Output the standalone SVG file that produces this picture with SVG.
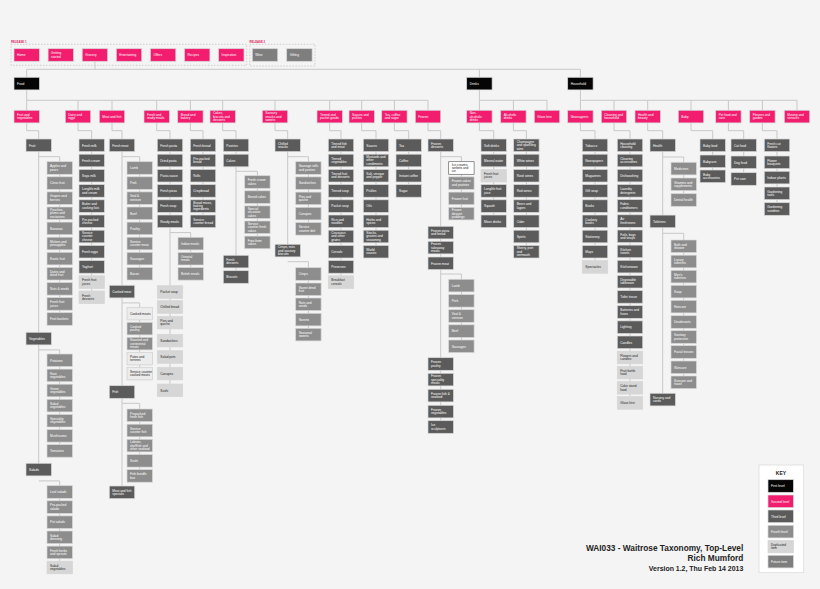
<svg xmlns="http://www.w3.org/2000/svg" width="820" height="589" viewBox="0 0 820 589">
<style>
.bg{fill:#f4f4f4}
.n rect{stroke:#d6d6d6;stroke-width:0.7}
.n text{font-family:"Liberation Sans",Arial,sans-serif;font-size:3.2px;fill:#fff}
.l1 rect{fill:#050505}
.l2 rect{fill:#f21d6f}
.l3 rect{fill:#5b5b5b}
.l4 rect{fill:#8d8d8d}
.fut rect{fill:#7e7e7e}
.dup rect{fill:#d6d6d6}
.pale rect{fill:#ececec;stroke:#cfcfcf}
.wht rect{fill:#fff;stroke:#666}
.dup text,.pale text,.wht text{fill:#222}
.con path{fill:none;stroke:#c8c8c8;stroke-width:1}
.dash{fill:none;stroke:#c4c4c4;stroke-width:0.8;stroke-dasharray:1.5 1.5}
.rel{font-family:"Liberation Sans",Arial,sans-serif;font-size:2.8px;font-weight:bold;fill:#e0245e}
.title{font-family:"Liberation Sans",Arial,sans-serif;font-weight:bold;fill:#222;text-anchor:end}
</style>
<rect class="bg" x="0" y="0" width="820" height="589"/>

<text class="rel" x="11" y="42.6">RELEASE 1</text>
<rect class="dash" x="11" y="44.3" width="235.7" height="21"/>
<text class="rel" x="249.6" y="42.6">RELEASE 2</text>
<rect class="dash" x="249.8" y="44.3" width="65.2" height="21.7"/>

<g class="con">
<path d="M95,61.3V69.3M26.7,69.3H580.4M26.7,69.3V77.3M479.4,69.3V77.3M580.4,69.3V77.3"/>
<path d="M26.7,90V100.3H428M26.7,100.3V110.3M78,100.3V110.3M112,100.3V110.3M156.7,100.3V110.3M190.4,100.3V110.3M222.7,100.3V110.3M275,100.3V110.3M329.7,100.3V110.3M361.7,100.3V110.3M394.4,100.3V110.3M428,100.3V110.3"/>
<path d="M479.4,90V100.3H547M479.4,100.3V110.3M513.4,100.3V110.3M547,100.3V110.3"/>
<path d="M580.4,90V100.3H797M580.4,100.3V110.3M614,100.3V110.3M647.7,100.3V110.3M691,100.3V110.3M728.4,100.3V110.3M762.4,100.3V110.3M797,100.3V110.3"/>
<path d="M26.7,122.9V130.7H38.7V463.3M78,122.9V130.7H91.7V291M112,122.9V130.7H122V486M156.7,122.9V130.7H170V384M190.4,122.9V130.7H203V215M222.7,122.9V130.7H236V270.7M275,122.9V130.7H287.7V244.3M329.7,122.9V130.7H341V275.8M361.7,122.9V130.7H376V245.4M394.4,122.9V130.7H408.7V184.6M428,122.9V130.7H440.7V420.7"/>
<path d="M479.4,122.9V130.7H493.7V215M513.4,122.9V130.7H526.4V245.4"/>
<path d="M580.4,122.9V130.7H595V260.6M614,122.9V130.7H630V396.6M647.7,122.9V130.7H662.7V393.3M691,122.9V130.7H712.7V170M728.4,122.9V130.7H743.7V172.7M762.4,122.9V130.7H777V202.7"/>
<path d="M38.7,156.7H59.7V312.7M38.7,349.9H59.7V444.6M38.7,480.9H59.7V561.2M122,156.7H139.7V267.4M122,302.9H139.7V367.3M122,403.3H139.7V469.6M170,232.6H190.7V267.5M236,171.3H257.4V236.1M287.7,156.7H308.4V222.5M287.7,261.7H308.4V328.3M440.7,156.7H461.4V207.3M440.7,274H461.4V340M662.7,157H683.7V193.7M662.7,233.3H683.7V376"/>
</g>

<!-- Release row -->
<g id="home" class="n l2" transform="translate(14,48.7)"><rect width="25.4" height="12.6"/><text x="3" y="7.6">Home</text></g>
<g id="getting-started" class="n l2" transform="translate(48.1,48.7)"><rect width="25.4" height="12.6"/><text x="3" y="5.5">Getting<tspan x="3" dy="3.6">started</tspan></text></g>
<g id="grocery" class="n l2" transform="translate(82.2,48.7)"><rect width="25.4" height="12.6"/><text x="3" y="7.6">Grocery</text></g>
<g id="entertaining" class="n l2" transform="translate(116.3,48.7)"><rect width="25.4" height="12.6"/><text x="3" y="7.6">Entertaining</text></g>
<g id="offers" class="n l2" transform="translate(150.4,48.7)"><rect width="25.4" height="12.6"/><text x="3" y="7.6">Offers</text></g>
<g id="recipes" class="n l2" transform="translate(184.5,48.7)"><rect width="25.4" height="12.6"/><text x="3" y="7.6">Recipes</text></g>
<g id="inspiration" class="n l2" transform="translate(218.6,48.7)"><rect width="25.4" height="12.6"/><text x="3" y="7.6">Inspiration</text></g>
<g id="wine" class="n fut" transform="translate(252.3,48.7)"><rect width="25.4" height="12.6"/><text x="3" y="7.6">Wine</text></g>
<g id="gifting" class="n fut" transform="translate(286.7,48.7)"><rect width="25.4" height="12.6"/><text x="3" y="7.6">Gifting</text></g>

<!-- Level 1 -->
<g id="food" class="n l1" transform="translate(14,77.3)"><rect width="25.4" height="12.6"/><text x="3" y="7.6">Food</text></g>
<g id="drinks" class="n l1" transform="translate(466.7,77.3)"><rect width="25.4" height="12.6"/><text x="3" y="7.6">Drinks</text></g>
<g id="household" class="n l1" transform="translate(567.7,77.3)"><rect width="25.4" height="12.6"/><text x="3" y="7.6">Household</text></g>

<!-- Level 2 -->
<g id="fruit-veg" class="n l2" transform="translate(14,110.3)"><rect width="25.4" height="12.6"/><text x="3" y="5.5">Fruit and<tspan x="3" dy="3.6">vegetables</tspan></text></g>
<g id="dairy-eggs" class="n l2" transform="translate(65.3,110.3)"><rect width="25.4" height="12.6"/><text x="3" y="5.5">Dairy and<tspan x="3" dy="3.6">eggs</tspan></text></g>
<g id="meat-fish" class="n l2" transform="translate(99.3,110.3)"><rect width="25.4" height="12.6"/><text x="3" y="7.6">Meat and fish</text></g>
<g id="fresh-ready" class="n l2" transform="translate(144,110.3)"><rect width="25.4" height="12.6"/><text x="3" y="5.5">Fresh and<tspan x="3" dy="3.6">ready meals</tspan></text></g>
<g id="bread-bakery" class="n l2" transform="translate(177.7,110.3)"><rect width="25.4" height="12.6"/><text x="3" y="5.5">Bread and<tspan x="3" dy="3.6">bakery</tspan></text></g>
<g id="cakes-biscuits" class="n l2" transform="translate(210,110.3)"><rect width="25.4" height="12.6"/><text x="3" y="3.9">Cakes,<tspan x="3" dy="3.4">biscuits and</tspan><tspan x="3" dy="3.4">desserts</tspan></text></g>
<g id="savoury" class="n l2" transform="translate(262.3,110.3)"><rect width="25.4" height="12.6"/><text x="3" y="3.9">Savoury<tspan x="3" dy="3.4">snacks and</tspan><tspan x="3" dy="3.4">sweets</tspan></text></g>
<g id="tinned-packet" class="n l2" transform="translate(317,110.3)"><rect width="25.4" height="12.6"/><text x="3" y="5.5">Tinned and<tspan x="3" dy="3.6">packet goods</tspan></text></g>
<g id="sauces-pickles" class="n l2" transform="translate(349,110.3)"><rect width="25.4" height="12.6"/><text x="3" y="5.5">Sauces and<tspan x="3" dy="3.6">pickles</tspan></text></g>
<g id="tea-coffee" class="n l2" transform="translate(381.7,110.3)"><rect width="25.4" height="12.6"/><text x="3" y="5.5">Tea, coffee<tspan x="3" dy="3.6">and sugar</tspan></text></g>
<g id="frozen" class="n l2" transform="translate(415.3,110.3)"><rect width="25.4" height="12.6"/><text x="3" y="7.6">Frozen</text></g>
<g id="non-alcoholic" class="n l2" transform="translate(466.7,110.3)"><rect width="25.4" height="12.6"/><text x="3" y="3.9">Non-<tspan x="3" dy="3.4">alcoholic</tspan><tspan x="3" dy="3.4">drinks</tspan></text></g>
<g id="alcoholic" class="n l2" transform="translate(500.7,110.3)"><rect width="25.4" height="12.6"/><text x="3" y="5.5">Alcoholic<tspan x="3" dy="3.6">drinks</tspan></text></g>
<g id="glass-hire" class="n l2" transform="translate(534.3,110.3)"><rect width="25.4" height="12.6"/><text x="3" y="7.6">Glass hire</text></g>
<g id="newsagents" class="n l2" transform="translate(567.7,110.3)"><rect width="25.4" height="12.6"/><text x="3" y="7.6">Newsagents</text></g>
<g id="cleaning-household" class="n l2" transform="translate(601.3,110.3)"><rect width="25.4" height="12.6"/><text x="3" y="5.5">Cleaning and<tspan x="3" dy="3.6">household</tspan></text></g>
<g id="health-beauty" class="n l2" transform="translate(635,110.3)"><rect width="25.4" height="12.6"/><text x="3" y="5.5">Health and<tspan x="3" dy="3.6">beauty</tspan></text></g>
<g id="baby" class="n l2" transform="translate(678.3,110.3)"><rect width="25.4" height="12.6"/><text x="3" y="7.6">Baby</text></g>
<g id="pet" class="n l2" transform="translate(715.7,110.3)"><rect width="25.4" height="12.6"/><text x="3" y="5.5">Pet food and<tspan x="3" dy="3.6">care</tspan></text></g>
<g id="flowers-garden" class="n l2" transform="translate(749.7,110.3)"><rect width="25.4" height="12.6"/><text x="3" y="5.5">Flowers and<tspan x="3" dy="3.6">garden</tspan></text></g>
<g id="moving-services" class="n l2" transform="translate(784.3,110.3)"><rect width="25.4" height="12.6"/><text x="3" y="5.5">Moving and<tspan x="3" dy="3.6">services</tspan></text></g>

<!-- Column A -->
<g id="fruit" class="n l3" transform="translate(26,139)"><rect width="25.4" height="12.6"/><text x="3" y="7.6">Fruit</text></g>
<g id="apples" class="n l4" transform="translate(47,161.7)"><rect width="25.4" height="12.6"/><text x="3" y="5.5">Apples and<tspan x="3" dy="3.6">pears</tspan></text></g>
<g id="citrus" class="n l4" transform="translate(47,176.8)"><rect width="25.4" height="12.6"/><text x="3" y="7.6">Citrus fruit</text></g>
<g id="grapes" class="n l4" transform="translate(47,191.9)"><rect width="25.4" height="12.6"/><text x="3" y="5.5">Grapes and<tspan x="3" dy="3.6">berries</tspan></text></g>
<g id="peaches" class="n l4" transform="translate(47,207)"><rect width="25.4" height="12.6"/><text x="3" y="3.9">Peaches,<tspan x="3" dy="3.4">plums and</tspan><tspan x="3" dy="3.4">nectarines</tspan></text></g>
<g id="bananas" class="n l4" transform="translate(47,222.1)"><rect width="25.4" height="12.6"/><text x="3" y="7.6">Bananas</text></g>
<g id="melons" class="n l4" transform="translate(47,237.2)"><rect width="25.4" height="12.6"/><text x="3" y="5.5">Melons and<tspan x="3" dy="3.6">pineapples</tspan></text></g>
<g id="exotic" class="n l4" transform="translate(47,252.3)"><rect width="25.4" height="12.6"/><text x="3" y="7.6">Exotic fruit</text></g>
<g id="dates" class="n l4" transform="translate(47,267.4)"><rect width="25.4" height="12.6"/><text x="3" y="5.5">Dates and<tspan x="3" dy="3.6">dried fruit</tspan></text></g>
<g id="nuts" class="n l4" transform="translate(47,282.5)"><rect width="25.4" height="12.6"/><text x="3" y="7.6">Nuts &amp; seeds</text></g>
<g id="fruit-juices" class="n l4" transform="translate(47,297.6)"><rect width="25.4" height="12.6"/><text x="3" y="5.5">Fresh fruit<tspan x="3" dy="3.6">juices</tspan></text></g>
<g id="fruit-baskets" class="n l4" transform="translate(47,312.7)"><rect width="25.4" height="12.6"/><text x="3" y="7.6">Fruit baskets</text></g>
<g id="vegetables" class="n l3" transform="translate(26,332.3)"><rect width="25.4" height="12.6"/><text x="3" y="7.6">Vegetables</text></g>
<g id="potatoes" class="n l4" transform="translate(47,354)"><rect width="25.4" height="12.6"/><text x="3" y="7.6">Potatoes</text></g>
<g id="root-veg" class="n l4" transform="translate(47,369.1)"><rect width="25.4" height="12.6"/><text x="3" y="5.5">Root<tspan x="3" dy="3.6">vegetables</tspan></text></g>
<g id="green-veg" class="n l4" transform="translate(47,384.2)"><rect width="25.4" height="12.6"/><text x="3" y="5.5">Green<tspan x="3" dy="3.6">vegetables</tspan></text></g>
<g id="salad-veg" class="n l4" transform="translate(47,399.3)"><rect width="25.4" height="12.6"/><text x="3" y="5.5">Salad<tspan x="3" dy="3.6">vegetables</tspan></text></g>
<g id="spec-veg" class="n l4" transform="translate(47,414.4)"><rect width="25.4" height="12.6"/><text x="3" y="5.5">Speciality<tspan x="3" dy="3.6">vegetables</tspan></text></g>
<g id="mushrooms" class="n l4" transform="translate(47,429.5)"><rect width="25.4" height="12.6"/><text x="3" y="7.6">Mushrooms</text></g>
<g id="tomatoes" class="n l4" transform="translate(47,444.6)"><rect width="25.4" height="12.6"/><text x="3" y="7.6">Tomatoes</text></g>
<g id="salads" class="n l3" transform="translate(26,463.3)"><rect width="25.4" height="12.6"/><text x="3" y="7.6">Salads</text></g>
<g id="leaf-salads" class="n l4" transform="translate(47,485.7)"><rect width="25.4" height="12.6"/><text x="3" y="7.6">Leaf salads</text></g>
<g id="prepacked-salads" class="n l4" transform="translate(47,500.8)"><rect width="25.4" height="12.6"/><text x="3" y="5.5">Pre-packed<tspan x="3" dy="3.6">salads</tspan></text></g>
<g id="pot-salads" class="n l4" transform="translate(47,515.9)"><rect width="25.4" height="12.6"/><text x="3" y="7.6">Pot salads</text></g>
<g id="salad-dressing" class="n l4" transform="translate(47,531)"><rect width="25.4" height="12.6"/><text x="3" y="5.5">Salad<tspan x="3" dy="3.6">dressing</tspan></text></g>
<g id="fresh-herbs" class="n l4" transform="translate(47,546.1)"><rect width="25.4" height="12.6"/><text x="3" y="5.5">Fresh herbs<tspan x="3" dy="3.6">and sprouts</tspan></text></g>
<g id="salad-veg-dup" class="n dup" transform="translate(47,561.2)"><rect width="25.4" height="12.6"/><text x="3" y="5.5">Salad<tspan x="3" dy="3.6">vegetables</tspan></text></g>

<!-- Column B -->
<g id="fresh-milk" class="n l3" transform="translate(79,139)"><rect width="25.4" height="12.6"/><text x="3" y="7.6">Fresh milk</text></g>
<g id="fresh-cream" class="n l3" transform="translate(79,154.2)"><rect width="25.4" height="12.6"/><text x="3" y="7.6">Fresh cream</text></g>
<g id="soya-milk" class="n l3" transform="translate(79,169.4)"><rect width="25.4" height="12.6"/><text x="3" y="7.6">Soya milk</text></g>
<g id="longlife-milk" class="n l3" transform="translate(79,184.6)"><rect width="25.4" height="12.6"/><text x="3" y="5.5">Longlife milk<tspan x="3" dy="3.6">and cream</tspan></text></g>
<g id="butter" class="n l3" transform="translate(79,199.8)"><rect width="25.4" height="12.6"/><text x="3" y="5.5">Butter and<tspan x="3" dy="3.6">cooking fats</tspan></text></g>
<g id="cheese" class="n l3" transform="translate(79,215)"><rect width="25.4" height="12.6"/><text x="3" y="5.5">Pre-packed<tspan x="3" dy="3.6">cheese</tspan></text></g>
<g id="sc-cheese" class="n l3" transform="translate(79,230.2)"><rect width="25.4" height="12.6"/><text x="3" y="3.9">Service<tspan x="3" dy="3.4">counter</tspan><tspan x="3" dy="3.4">cheese</tspan></text></g>
<g id="fresh-eggs" class="n l3" transform="translate(79,245.4)"><rect width="25.4" height="12.6"/><text x="3" y="7.6">Fresh eggs</text></g>
<g id="yoghurt" class="n l3" transform="translate(79,260.6)"><rect width="25.4" height="12.6"/><text x="3" y="7.6">Yoghurt</text></g>
<g id="juices-dup" class="n dup" transform="translate(79,275.8)"><rect width="25.4" height="12.6"/><text x="3" y="5.5">Fresh fruit<tspan x="3" dy="3.6">juices</tspan></text></g>
<g id="desserts-dup" class="n dup" transform="translate(79,291)"><rect width="25.4" height="12.6"/><text x="3" y="5.5">Fresh<tspan x="3" dy="3.6">desserts</tspan></text></g>

<!-- Column C -->
<g id="fresh-meat" class="n l3" transform="translate(109.3,139)"><rect width="25.4" height="12.6"/><text x="3" y="7.6">Fresh meat</text></g>
<g id="lamb" class="n l4" transform="translate(127,161.7)"><rect width="25.4" height="12.6"/><text x="3" y="7.6">Lamb</text></g>
<g id="pork" class="n l4" transform="translate(127,176.8)"><rect width="25.4" height="12.6"/><text x="3" y="7.6">Pork</text></g>
<g id="veal" class="n l4" transform="translate(127,191.9)"><rect width="25.4" height="12.6"/><text x="3" y="5.5">Veal &amp;<tspan x="3" dy="3.6">venison</tspan></text></g>
<g id="beef" class="n l4" transform="translate(127,207)"><rect width="25.4" height="12.6"/><text x="3" y="7.6">Beef</text></g>
<g id="poultry" class="n l4" transform="translate(127,222.1)"><rect width="25.4" height="12.6"/><text x="3" y="7.6">Poultry</text></g>
<g id="sc-meat" class="n l4" transform="translate(127,237.2)"><rect width="25.4" height="12.6"/><text x="3" y="5.5">Service<tspan x="3" dy="3.6">counter meat</tspan></text></g>
<g id="sausages" class="n l4" transform="translate(127,252.3)"><rect width="25.4" height="12.6"/><text x="3" y="7.6">Sausages</text></g>
<g id="bacon" class="n l4" transform="translate(127,267.4)"><rect width="25.4" height="12.6"/><text x="3" y="7.6">Bacon</text></g>
<g id="cooked-meat" class="n l3" transform="translate(109.3,285.3)"><rect width="25.4" height="12.6"/><text x="3" y="7.6">Cooked meat</text></g>
<g id="cooked-meats" class="n pale" transform="translate(127,307.3)"><rect width="25.4" height="12.6"/><text x="3" y="7.6">Cooked meats</text></g>
<g id="cooked-poultry" class="n l4" transform="translate(127,322.3)"><rect width="25.4" height="12.6"/><text x="3" y="5.5">Cooked<tspan x="3" dy="3.6">poultry</tspan></text></g>
<g id="roasted" class="n l4" transform="translate(127,337.3)"><rect width="25.4" height="12.6"/><text x="3" y="3.9">Roasted and<tspan x="3" dy="3.4">continental</tspan><tspan x="3" dy="3.4">meats</tspan></text></g>
<g id="pates" class="n pale" transform="translate(127,352.3)"><rect width="25.4" height="12.6"/><text x="3" y="5.5">Pates and<tspan x="3" dy="3.6">terrines</tspan></text></g>
<g id="sc-cooked" class="n pale" transform="translate(127,367.3)"><rect width="25.4" height="12.6"/><text x="3" y="5.5">Service counter<tspan x="3" dy="3.6">cooked meats</tspan></text></g>
<g id="fish" class="n l3" transform="translate(109.3,385.7)"><rect width="25.4" height="12.6"/><text x="3" y="7.6">Fish</text></g>
<g id="prepacked-fish" class="n l4" transform="translate(127,409)"><rect width="25.4" height="12.6"/><text x="3" y="5.5">Prepacked<tspan x="3" dy="3.6">fresh fish</tspan></text></g>
<g id="sc-fish" class="n l4" transform="translate(127,424.2)"><rect width="25.4" height="12.6"/><text x="3" y="5.5">Service<tspan x="3" dy="3.6">counter fish</tspan></text></g>
<g id="lobster" class="n l4" transform="translate(127,439.3)"><rect width="25.4" height="12.6"/><text x="3" y="3.9">Lobster,<tspan x="3" dy="3.4">shellfish and</tspan><tspan x="3" dy="3.4">other seafood</tspan></text></g>
<g id="sushi" class="n l4" transform="translate(127,454.5)"><rect width="25.4" height="12.6"/><text x="3" y="7.6">Sushi</text></g>
<g id="fish-box" class="n l4" transform="translate(127,469.6)"><rect width="25.4" height="12.6"/><text x="3" y="5.5">Fish bundle<tspan x="3" dy="3.6">box</tspan></text></g>
<g id="meat-fish-specials" class="n l3" transform="translate(109.3,486)"><rect width="25.4" height="12.6"/><text x="3" y="5.5">Meat and fish<tspan x="3" dy="3.6">specials</tspan></text></g>

<!-- Column D -->
<g id="fresh-pasta" class="n l3" transform="translate(157.3,139)"><rect width="25.4" height="12.6"/><text x="3" y="7.6">Fresh pasta</text></g>
<g id="dried-pasta" class="n l3" transform="translate(157.3,154.2)"><rect width="25.4" height="12.6"/><text x="3" y="7.6">Dried pasta</text></g>
<g id="pasta-sauce" class="n l3" transform="translate(157.3,169.4)"><rect width="25.4" height="12.6"/><text x="3" y="7.6">Pasta sauce</text></g>
<g id="fresh-pizza" class="n l3" transform="translate(157.3,184.6)"><rect width="25.4" height="12.6"/><text x="3" y="7.6">Fresh pizza</text></g>
<g id="fresh-soup" class="n l3" transform="translate(157.3,199.8)"><rect width="25.4" height="12.6"/><text x="3" y="7.6">Fresh soup</text></g>
<g id="ready-meals" class="n l3" transform="translate(157.3,215)"><rect width="25.4" height="12.6"/><text x="3" y="7.6">Ready meals</text></g>
<g id="indian" class="n l4" transform="translate(178,237.3)"><rect width="25.4" height="12.6"/><text x="3" y="7.6">Indian meals</text></g>
<g id="oriental" class="n l4" transform="translate(178,252.4)"><rect width="25.4" height="12.6"/><text x="3" y="5.5">Oriental<tspan x="3" dy="3.6">meals</tspan></text></g>
<g id="british" class="n l4" transform="translate(178,267.5)"><rect width="25.4" height="12.6"/><text x="3" y="7.6">British meals</text></g>
<g id="packet-soup-dup" class="n dup" transform="translate(157.3,285.7)"><rect width="25.4" height="12.6"/><text x="3" y="7.6">Packet soup</text></g>
<g id="chilled-bread" class="n dup" transform="translate(157.3,300.7)"><rect width="25.4" height="12.6"/><text x="3" y="7.6">Chilled bread</text></g>
<g id="pies-dup" class="n dup" transform="translate(157.3,316.3)"><rect width="25.4" height="12.6"/><text x="3" y="5.5">Pies and<tspan x="3" dy="3.6">quiche</tspan></text></g>
<g id="sandwiches-dup" class="n dup" transform="translate(157.3,334.3)"><rect width="25.4" height="12.6"/><text x="3" y="7.6">Sandwiches</text></g>
<g id="salad-pots" class="n dup" transform="translate(157.3,350.7)"><rect width="25.4" height="12.6"/><text x="3" y="7.6">Salad pots</text></g>
<g id="canapes-dup" class="n dup" transform="translate(157.3,367.3)"><rect width="25.4" height="12.6"/><text x="3" y="7.6">Canapes</text></g>
<g id="sushi-dup" class="n dup" transform="translate(157.3,384)"><rect width="25.4" height="12.6"/><text x="3" y="7.6">Sushi</text></g>

<!-- Column E -->
<g id="fresh-bread" class="n l3" transform="translate(190.3,139)"><rect width="25.4" height="12.6"/><text x="3" y="7.6">Fresh bread</text></g>
<g id="prepacked-bread" class="n l3" transform="translate(190.3,154.2)"><rect width="25.4" height="12.6"/><text x="3" y="5.5">Pre-packed<tspan x="3" dy="3.6">bread</tspan></text></g>
<g id="rolls" class="n l3" transform="translate(190.3,169.4)"><rect width="25.4" height="12.6"/><text x="3" y="7.6">Rolls</text></g>
<g id="crispbread" class="n l3" transform="translate(190.3,184.6)"><rect width="25.4" height="12.6"/><text x="3" y="7.6">Crispbread</text></g>
<g id="bread-mixes" class="n l3" transform="translate(190.3,199.8)"><rect width="25.4" height="12.6"/><text x="3" y="3.9">Bread mixes,<tspan x="3" dy="3.4">baking</tspan><tspan x="3" dy="3.4">ingredients</tspan></text></g>
<g id="sc-bread" class="n l3" transform="translate(190.3,215)"><rect width="25.4" height="12.6"/><text x="3" y="5.5">Service<tspan x="3" dy="3.6">counter bread</tspan></text></g>

<!-- Column F -->
<g id="pastries" class="n l3" transform="translate(223.3,139)"><rect width="25.4" height="12.6"/><text x="3" y="7.6">Pastries</text></g>
<g id="cakes" class="n l3" transform="translate(223.3,154.2)"><rect width="25.4" height="12.6"/><text x="3" y="7.6">Cakes</text></g>
<g id="cream-cakes" class="n l4" transform="translate(244.7,175.7)"><rect width="25.4" height="12.6"/><text x="3" y="5.5">Fresh cream<tspan x="3" dy="3.6">cakes</tspan></text></g>
<g id="boxed-cakes" class="n l4" transform="translate(244.7,190.8)"><rect width="25.4" height="12.6"/><text x="3" y="7.6">Boxed cakes</text></g>
<g id="occasion-cakes" class="n l4" transform="translate(244.7,205.9)"><rect width="25.4" height="12.6"/><text x="3" y="3.9">Special<tspan x="3" dy="3.4">occasion</tspan><tspan x="3" dy="3.4">cakes</tspan></text></g>
<g id="sc-cakes" class="n l4" transform="translate(244.7,221)"><rect width="25.4" height="12.6"/><text x="3" y="3.9">Service<tspan x="3" dy="3.4">counter fresh</tspan><tspan x="3" dy="3.4">cakes</tspan></text></g>
<g id="free-from" class="n l4" transform="translate(244.7,236.1)"><rect width="25.4" height="12.6"/><text x="3" y="5.5">Free-from<tspan x="3" dy="3.6">cakes</tspan></text></g>
<g id="fresh-desserts" class="n l3" transform="translate(223.3,255.3)"><rect width="25.4" height="12.6"/><text x="3" y="5.5">Fresh<tspan x="3" dy="3.6">desserts</tspan></text></g>
<g id="biscuits" class="n l3" transform="translate(223.3,270.7)"><rect width="25.4" height="12.6"/><text x="3" y="7.6">Biscuits</text></g>

<!-- Column G -->
<g id="chilled-snacks" class="n l3" transform="translate(275,139)"><rect width="25.4" height="12.6"/><text x="3" y="5.5">Chilled<tspan x="3" dy="3.6">snacks</tspan></text></g>
<g id="sausage-rolls" class="n l4" transform="translate(295.7,161.7)"><rect width="25.4" height="12.6"/><text x="3" y="5.5">Sausage rolls<tspan x="3" dy="3.6">and pasties</tspan></text></g>
<g id="sandwiches" class="n l4" transform="translate(295.7,176.9)"><rect width="25.4" height="12.6"/><text x="3" y="7.6">Sandwiches</text></g>
<g id="pies" class="n l4" transform="translate(295.7,192.1)"><rect width="25.4" height="12.6"/><text x="3" y="5.5">Pies and<tspan x="3" dy="3.6">quiche</tspan></text></g>
<g id="canapes" class="n l4" transform="translate(295.7,207.3)"><rect width="25.4" height="12.6"/><text x="3" y="7.6">Canapes</text></g>
<g id="sc-deli" class="n l4" transform="translate(295.7,222.5)"><rect width="25.4" height="12.6"/><text x="3" y="5.5">Service<tspan x="3" dy="3.6">counter deli</tspan></text></g>
<g id="crisps-nuts" class="n l3" transform="translate(275,244.3)"><rect width="25.4" height="12.6"/><text x="3" y="3.9">Crisps, nuts<tspan x="3" dy="3.4">and savoury</tspan><tspan x="3" dy="3.4">biscuits</tspan></text></g>
<g id="crisps" class="n l4" transform="translate(295.7,267.7)"><rect width="25.4" height="12.6"/><text x="3" y="7.6">Crisps</text></g>
<g id="sweet-dried-fruit" class="n l4" transform="translate(295.7,283)"><rect width="25.4" height="12.6"/><text x="3" y="5.5">Sweet dried<tspan x="3" dy="3.6">fruit</tspan></text></g>
<g id="nuts-seeds" class="n l4" transform="translate(295.7,298)"><rect width="25.4" height="12.6"/><text x="3" y="5.5">Nuts and<tspan x="3" dy="3.6">seeds</tspan></text></g>
<g id="sweets" class="n l4" transform="translate(295.7,313.3)"><rect width="25.4" height="12.6"/><text x="3" y="7.6">Sweets</text></g>
<g id="seasonal-sweets" class="n l4" transform="translate(295.7,328.3)"><rect width="25.4" height="12.6"/><text x="3" y="5.5">Seasonal<tspan x="3" dy="3.6">sweets</tspan></text></g>

<!-- Column H -->
<g id="tinned-fish" class="n l3" transform="translate(328.3,139)"><rect width="25.4" height="12.6"/><text x="3" y="5.5">Tinned fish<tspan x="3" dy="3.6">and meat</tspan></text></g>
<g id="tinned-veg" class="n l3" transform="translate(328.3,154.2)"><rect width="25.4" height="12.6"/><text x="3" y="5.5">Tinned<tspan x="3" dy="3.6">vegetables</tspan></text></g>
<g id="tinned-fruit" class="n l3" transform="translate(328.3,169.4)"><rect width="25.4" height="12.6"/><text x="3" y="5.5">Tinned fruit<tspan x="3" dy="3.6">and desserts</tspan></text></g>
<g id="tinned-soup" class="n l3" transform="translate(328.3,184.6)"><rect width="25.4" height="12.6"/><text x="3" y="7.6">Tinned soup</text></g>
<g id="packet-soup" class="n l3" transform="translate(328.3,199.8)"><rect width="25.4" height="12.6"/><text x="3" y="7.6">Packet soup</text></g>
<g id="rice-noodles" class="n l3" transform="translate(328.3,215)"><rect width="25.4" height="12.6"/><text x="3" y="5.5">Rice and<tspan x="3" dy="3.6">noodles</tspan></text></g>
<g id="couscous" class="n l3" transform="translate(328.3,230.2)"><rect width="25.4" height="12.6"/><text x="3" y="3.9">Couscous<tspan x="3" dy="3.4">and other</tspan><tspan x="3" dy="3.4">grains</tspan></text></g>
<g id="cereals" class="n l3" transform="translate(328.3,245.4)"><rect width="25.4" height="12.6"/><text x="3" y="7.6">Cereals</text></g>
<g id="preserves" class="n l3" transform="translate(328.3,260.6)"><rect width="25.4" height="12.6"/><text x="3" y="7.6">Preserves</text></g>
<g id="breakfast-cereals" class="n dup" transform="translate(328.3,275.8)"><rect width="25.4" height="12.6"/><text x="3" y="5.5">Breakfast<tspan x="3" dy="3.6">cereals</tspan></text></g>

<!-- Column I -->
<g id="sauces" class="n l3" transform="translate(363.3,139)"><rect width="25.4" height="12.6"/><text x="3" y="7.6">Sauces</text></g>
<g id="mustards" class="n l3" transform="translate(363.3,154.2)"><rect width="25.4" height="12.6"/><text x="3" y="3.9">Mustards and<tspan x="3" dy="3.4">other</tspan><tspan x="3" dy="3.4">condiments</tspan></text></g>
<g id="salt-vinegar" class="n l3" transform="translate(363.3,169.4)"><rect width="25.4" height="12.6"/><text x="3" y="5.5">Salt, vinegar<tspan x="3" dy="3.6">and pepper</tspan></text></g>
<g id="pickles" class="n l3" transform="translate(363.3,184.6)"><rect width="25.4" height="12.6"/><text x="3" y="7.6">Pickles</text></g>
<g id="oils" class="n l3" transform="translate(363.3,199.8)"><rect width="25.4" height="12.6"/><text x="3" y="7.6">Oils</text></g>
<g id="herbs-spices" class="n l3" transform="translate(363.3,215)"><rect width="25.4" height="12.6"/><text x="3" y="5.5">Herbs and<tspan x="3" dy="3.6">spices</tspan></text></g>
<g id="stocks" class="n l3" transform="translate(363.3,230.2)"><rect width="25.4" height="12.6"/><text x="3" y="3.9">Stocks,<tspan x="3" dy="3.4">gravies and</tspan><tspan x="3" dy="3.4">seasoning</tspan></text></g>
<g id="world-sauces" class="n l3" transform="translate(363.3,245.4)"><rect width="25.4" height="12.6"/><text x="3" y="5.5">World<tspan x="3" dy="3.6">sauces</tspan></text></g>

<!-- Column J -->
<g id="tea" class="n l3" transform="translate(396,139)"><rect width="25.4" height="12.6"/><text x="3" y="7.6">Tea</text></g>
<g id="coffee" class="n l3" transform="translate(396,154.2)"><rect width="25.4" height="12.6"/><text x="3" y="7.6">Coffee</text></g>
<g id="instant-coffee" class="n l3" transform="translate(396,169.4)"><rect width="25.4" height="12.6"/><text x="3" y="7.6">Instant coffee</text></g>
<g id="sugar" class="n l3" transform="translate(396,184.6)"><rect width="25.4" height="12.6"/><text x="3" y="7.6">Sugar</text></g>

<!-- Column K -->
<g id="frozen-desserts" class="n l3" transform="translate(428,139)"><rect width="25.4" height="12.6"/><text x="3" y="5.5">Frozen<tspan x="3" dy="3.6">desserts</tspan></text></g>
<g id="ice-cream" class="n wht" transform="translate(448.7,161.7)"><rect width="25.4" height="12.6"/><text x="3" y="3.9">Ice creams,<tspan x="3" dy="3.4">sorbets and</tspan><tspan x="3" dy="3.4">ice</tspan></text></g>
<g id="frozen-cakes" class="n l4" transform="translate(448.7,176.9)"><rect width="25.4" height="12.6"/><text x="3" y="5.5">Frozen cakes<tspan x="3" dy="3.6">and pastries</tspan></text></g>
<g id="frozen-fruit" class="n l4" transform="translate(448.7,192.1)"><rect width="25.4" height="12.6"/><text x="3" y="7.6">Frozen fruit</text></g>
<g id="frozen-puddings" class="n l4" transform="translate(448.7,207.3)"><rect width="25.4" height="12.6"/><text x="3" y="3.9">Frozen<tspan x="3" dy="3.4">dessert</tspan><tspan x="3" dy="3.4">puddings</tspan></text></g>
<g id="frozen-pizza" class="n l3" transform="translate(428,226.3)"><rect width="25.4" height="12.6"/><text x="3" y="5.5">Frozen pizza<tspan x="3" dy="3.6">and bread</tspan></text></g>
<g id="frozen-takeaway" class="n l3" transform="translate(428,241.3)"><rect width="25.4" height="12.6"/><text x="3" y="3.9">Frozen<tspan x="3" dy="3.4">takeaway</tspan><tspan x="3" dy="3.4">meals</tspan></text></g>
<g id="frozen-meat" class="n l3" transform="translate(428,257)"><rect width="25.4" height="12.6"/><text x="3" y="7.6">Frozen meat</text></g>
<g id="f-lamb" class="n l4" transform="translate(448.7,279.3)"><rect width="25.4" height="12.6"/><text x="3" y="7.6">Lamb</text></g>
<g id="f-pork" class="n l4" transform="translate(448.7,294.5)"><rect width="25.4" height="12.6"/><text x="3" y="7.6">Pork</text></g>
<g id="f-veal" class="n l4" transform="translate(448.7,309.7)"><rect width="25.4" height="12.6"/><text x="3" y="5.5">Veal &amp;<tspan x="3" dy="3.6">venison</tspan></text></g>
<g id="f-beef" class="n l4" transform="translate(448.7,324.8)"><rect width="25.4" height="12.6"/><text x="3" y="7.6">Beef</text></g>
<g id="f-sausages" class="n l4" transform="translate(448.7,340)"><rect width="25.4" height="12.6"/><text x="3" y="7.6">Sausages</text></g>
<g id="frozen-poultry" class="n l3" transform="translate(428,357.7)"><rect width="25.4" height="12.6"/><text x="3" y="5.5">Frozen<tspan x="3" dy="3.6">poultry</tspan></text></g>
<g id="frozen-speciality" class="n l3" transform="translate(428,373.3)"><rect width="25.4" height="12.6"/><text x="3" y="3.9">Frozen<tspan x="3" dy="3.4">speciality</tspan><tspan x="3" dy="3.4">meals</tspan></text></g>
<g id="frozen-fish" class="n l3" transform="translate(428,389.3)"><rect width="25.4" height="12.6"/><text x="3" y="5.5">Frozen fish &amp;<tspan x="3" dy="3.6">seafood</tspan></text></g>
<g id="frozen-veg" class="n l3" transform="translate(428,405.3)"><rect width="25.4" height="12.6"/><text x="3" y="5.5">Frozen<tspan x="3" dy="3.6">vegetables</tspan></text></g>
<g id="ice" class="n l3" transform="translate(428,420.7)"><rect width="25.4" height="12.6"/><text x="3" y="5.5">Ice<tspan x="3" dy="3.6">sculptures</tspan></text></g>

<!-- Column L -->
<g id="soft-drinks" class="n l3" transform="translate(481,139)"><rect width="25.4" height="12.6"/><text x="3" y="7.6">Soft drinks</text></g>
<g id="mineral-water" class="n l3" transform="translate(481,154.2)"><rect width="25.4" height="12.6"/><text x="3" y="7.6">Mineral water</text></g>
<g id="juices-dup2" class="n dup" transform="translate(481,169.4)"><rect width="25.4" height="12.6"/><text x="3" y="5.5">Fresh fruit<tspan x="3" dy="3.6">juices</tspan></text></g>
<g id="longlife-juice" class="n l3" transform="translate(481,184.6)"><rect width="25.4" height="12.6"/><text x="3" y="5.5">Longlife fruit<tspan x="3" dy="3.6">juice</tspan></text></g>
<g id="squash" class="n l3" transform="translate(481,199.8)"><rect width="25.4" height="12.6"/><text x="3" y="7.6">Squash</text></g>
<g id="mixer-drinks" class="n l3" transform="translate(481,215)"><rect width="25.4" height="12.6"/><text x="3" y="7.6">Mixer drinks</text></g>

<!-- Column M -->
<g id="champagne" class="n l3" transform="translate(513.7,139)"><rect width="25.4" height="12.6"/><text x="3" y="3.9">Champagne<tspan x="3" dy="3.4">and sparkling</tspan><tspan x="3" dy="3.4">wine</tspan></text></g>
<g id="white-wines" class="n l3" transform="translate(513.7,154.2)"><rect width="25.4" height="12.6"/><text x="3" y="7.6">White wines</text></g>
<g id="rose-wines" class="n l3" transform="translate(513.7,169.4)"><rect width="25.4" height="12.6"/><text x="3" y="7.6">Rosé wines</text></g>
<g id="red-wines" class="n l3" transform="translate(513.7,184.6)"><rect width="25.4" height="12.6"/><text x="3" y="7.6">Red wines</text></g>
<g id="beers" class="n l3" transform="translate(513.7,199.8)"><rect width="25.4" height="12.6"/><text x="3" y="5.5">Beers and<tspan x="3" dy="3.6">lagers</tspan></text></g>
<g id="cider" class="n l3" transform="translate(513.7,215)"><rect width="25.4" height="12.6"/><text x="3" y="7.6">Cider</text></g>
<g id="spirits" class="n l3" transform="translate(513.7,230.2)"><rect width="25.4" height="12.6"/><text x="3" y="7.6">Spirits</text></g>
<g id="sherry" class="n l3" transform="translate(513.7,245.4)"><rect width="25.4" height="12.6"/><text x="3" y="3.9">Sherry, port<tspan x="3" dy="3.4">and</tspan><tspan x="3" dy="3.4">vermouth</tspan></text></g>

<!-- Column N -->
<g id="tobacco" class="n l3" transform="translate(582.3,139)"><rect width="25.4" height="12.6"/><text x="3" y="7.6">Tobacco</text></g>
<g id="newspapers" class="n l3" transform="translate(582.3,154.2)"><rect width="25.4" height="12.6"/><text x="3" y="7.6">Newspapers</text></g>
<g id="magazines" class="n l3" transform="translate(582.3,169.4)"><rect width="25.4" height="12.6"/><text x="3" y="7.6">Magazines</text></g>
<g id="gift-wrap" class="n l3" transform="translate(582.3,184.6)"><rect width="25.4" height="12.6"/><text x="3" y="7.6">Gift wrap</text></g>
<g id="books" class="n l3" transform="translate(582.3,199.8)"><rect width="25.4" height="12.6"/><text x="3" y="7.6">Books</text></g>
<g id="cookery-books" class="n l3" transform="translate(582.3,215)"><rect width="25.4" height="12.6"/><text x="3" y="5.5">Cookery<tspan x="3" dy="3.6">books</tspan></text></g>
<g id="stationery" class="n l3" transform="translate(582.3,230.2)"><rect width="25.4" height="12.6"/><text x="3" y="7.6">Stationery</text></g>
<g id="maps" class="n l3" transform="translate(582.3,245.4)"><rect width="25.4" height="12.6"/><text x="3" y="7.6">Maps</text></g>
<g id="spectacles" class="n dup" transform="translate(582.3,260.6)"><rect width="25.4" height="12.6"/><text x="3" y="7.6">Spectacles</text></g>

<!-- Column O -->
<g id="household-cleaning" class="n l3" transform="translate(617.3,139)"><rect width="25.4" height="12.6"/><text x="3" y="5.5">Household<tspan x="3" dy="3.6">cleaning</tspan></text></g>
<g id="cleaning-acc" class="n l3" transform="translate(617.3,154.2)"><rect width="25.4" height="12.6"/><text x="3" y="5.5">Cleaning<tspan x="3" dy="3.6">accessories</tspan></text></g>
<g id="dishwashing" class="n l3" transform="translate(617.3,169.3)"><rect width="25.4" height="12.6"/><text x="3" y="7.6">Dishwashing</text></g>
<g id="laundry" class="n l3" transform="translate(617.3,184.5)"><rect width="25.4" height="12.6"/><text x="3" y="5.5">Laundry<tspan x="3" dy="3.6">detergents</tspan></text></g>
<g id="fabric" class="n l3" transform="translate(617.3,199.6)"><rect width="25.4" height="12.6"/><text x="3" y="5.5">Fabric<tspan x="3" dy="3.6">conditioners</tspan></text></g>
<g id="air-fresheners" class="n l3" transform="translate(617.3,214.8)"><rect width="25.4" height="12.6"/><text x="3" y="5.5">Air<tspan x="3" dy="3.6">fresheners</tspan></text></g>
<g id="foils" class="n l3" transform="translate(617.3,230)"><rect width="25.4" height="12.6"/><text x="3" y="5.5">Foils, bags<tspan x="3" dy="3.6">and wraps</tspan></text></g>
<g id="kitchen-towels" class="n l3" transform="translate(617.3,245.1)"><rect width="25.4" height="12.6"/><text x="3" y="5.5">Kitchen<tspan x="3" dy="3.6">towels</tspan></text></g>
<g id="kitchenware" class="n l3" transform="translate(617.3,260.3)"><rect width="25.4" height="12.6"/><text x="3" y="7.6">Kitchenware</text></g>
<g id="disposable" class="n l3" transform="translate(617.3,275.4)"><rect width="25.4" height="12.6"/><text x="3" y="5.5">Disposable<tspan x="3" dy="3.6">tableware</tspan></text></g>
<g id="toilet-tissue" class="n l3" transform="translate(617.3,290.6)"><rect width="25.4" height="12.6"/><text x="3" y="7.6">Toilet tissue</text></g>
<g id="batteries" class="n l3" transform="translate(617.3,305.7)"><rect width="25.4" height="12.6"/><text x="3" y="5.5">Batteries and<tspan x="3" dy="3.6">fuses</tspan></text></g>
<g id="lighting" class="n l3" transform="translate(617.3,320.9)"><rect width="25.4" height="12.6"/><text x="3" y="7.6">Lighting</text></g>
<g id="candles" class="n l3" transform="translate(617.3,336)"><rect width="25.4" height="12.6"/><text x="3" y="7.6">Candles</text></g>
<g id="flowers-candles" class="n dup" transform="translate(617.3,351.2)"><rect width="25.4" height="12.6"/><text x="3" y="5.5">Flowers and<tspan x="3" dy="3.6">candles</tspan></text></g>
<g id="pick-mix" class="n dup" transform="translate(617.3,366.3)"><rect width="25.4" height="12.6"/><text x="3" y="5.5">Fruit bottle<tspan x="3" dy="3.6">food</tspan></text></g>
<g id="cake-stand" class="n dup" transform="translate(617.3,381.5)"><rect width="25.4" height="12.6"/><text x="3" y="5.5">Cake stand<tspan x="3" dy="3.6">food</tspan></text></g>
<g id="glass-hire-dup" class="n dup" transform="translate(617.3,396.6)"><rect width="25.4" height="12.6"/><text x="3" y="7.6">Glass hire</text></g>

<!-- Column P -->
<g id="health" class="n l3" transform="translate(650,139)"><rect width="25.4" height="12.6"/><text x="3" y="7.6">Health</text></g>
<g id="medicines" class="n l4" transform="translate(671,162.3)"><rect width="25.4" height="12.6"/><text x="3" y="7.6">Medicines</text></g>
<g id="vitamins" class="n l4" transform="translate(671,178)"><rect width="25.4" height="12.6"/><text x="3" y="5.5">Vitamins and<tspan x="3" dy="3.6">supplements</tspan></text></g>
<g id="dental" class="n l4" transform="translate(671,193.7)"><rect width="25.4" height="12.6"/><text x="3" y="7.6">Dental health</text></g>
<g id="toiletries" class="n l3" transform="translate(650,215.1)"><rect width="25.4" height="12.6"/><text x="3" y="7.6">Toiletries</text></g>
<g id="bath" class="n l4" transform="translate(671,240)"><rect width="25.4" height="12.6"/><text x="3" y="5.5">Bath and<tspan x="3" dy="3.6">shower</tspan></text></g>
<g id="luxury" class="n l4" transform="translate(671,255.2)"><rect width="25.4" height="12.6"/><text x="3" y="5.5">Luxury<tspan x="3" dy="3.6">toiletries</tspan></text></g>
<g id="mens" class="n l4" transform="translate(671,270.3)"><rect width="25.4" height="12.6"/><text x="3" y="5.5">Men's<tspan x="3" dy="3.6">toiletries</tspan></text></g>
<g id="soap" class="n l4" transform="translate(671,285.3)"><rect width="25.4" height="12.6"/><text x="3" y="7.6">Soap</text></g>
<g id="haircare" class="n l4" transform="translate(671,300.3)"><rect width="25.4" height="12.6"/><text x="3" y="7.6">Haircare</text></g>
<g id="deodorants" class="n l4" transform="translate(671,315.7)"><rect width="25.4" height="12.6"/><text x="3" y="7.6">Deodorants</text></g>
<g id="sanitary" class="n l4" transform="translate(671,330.7)"><rect width="25.4" height="12.6"/><text x="3" y="5.5">Sanitary<tspan x="3" dy="3.6">protection</tspan></text></g>
<g id="tissues" class="n l4" transform="translate(671,345.7)"><rect width="25.4" height="12.6"/><text x="3" y="7.6">Facial tissues</text></g>
<g id="skincare" class="n l4" transform="translate(671,361)"><rect width="25.4" height="12.6"/><text x="3" y="7.6">Skincare</text></g>
<g id="suncare" class="n l4" transform="translate(671,376)"><rect width="25.4" height="12.6"/><text x="3" y="5.5">Suncare and<tspan x="3" dy="3.6">travel</tspan></text></g>
<g id="nursery" class="n l3" transform="translate(650,393.3)"><rect width="25.4" height="12.6"/><text x="3" y="5.5">Nursery and<tspan x="3" dy="3.6">cards</tspan></text></g>

<!-- Column Q -->
<g id="baby-food" class="n l3" transform="translate(700,139)"><rect width="25.4" height="12.6"/><text x="3" y="7.6">Baby food</text></g>
<g id="babycare" class="n l3" transform="translate(700,155)"><rect width="25.4" height="12.6"/><text x="3" y="7.6">Babycare</text></g>
<g id="baby-acc" class="n l3" transform="translate(700,170)"><rect width="25.4" height="12.6"/><text x="3" y="5.5">Baby<tspan x="3" dy="3.6">accessories</tspan></text></g>

<!-- Column R -->
<g id="cat-food" class="n l3" transform="translate(731,139)"><rect width="25.4" height="12.6"/><text x="3" y="7.6">Cat food</text></g>
<g id="dog-food" class="n l3" transform="translate(731,156)"><rect width="25.4" height="12.6"/><text x="3" y="7.6">Dog food</text></g>
<g id="pet-care" class="n l3" transform="translate(731,172.7)"><rect width="25.4" height="12.6"/><text x="3" y="7.6">Pet care</text></g>

<!-- Column S -->
<g id="cut-flowers" class="n l3" transform="translate(764.3,139)"><rect width="25.4" height="12.6"/><text x="3" y="5.5">Fresh cut<tspan x="3" dy="3.6">flowers</tspan></text></g>
<g id="bouquets" class="n l3" transform="translate(764.3,156)"><rect width="25.4" height="12.6"/><text x="3" y="5.5">Flower<tspan x="3" dy="3.6">bouquets</tspan></text></g>
<g id="indoor-plants" class="n l3" transform="translate(764.3,171.3)"><rect width="25.4" height="12.6"/><text x="3" y="7.6">Indoor plants</text></g>
<g id="garden-tools" class="n l3" transform="translate(764.3,187)"><rect width="25.4" height="12.6"/><text x="3" y="5.5">Gardening<tspan x="3" dy="3.6">tools</tspan></text></g>
<g id="garden-sundries" class="n l3" transform="translate(764.3,202.7)"><rect width="25.4" height="12.6"/><text x="3" y="5.5">Gardening<tspan x="3" dy="3.6">sundries</tspan></text></g>

<!-- Title -->
<text class="title" x="743.3" y="551" font-size="8.3">WAI033 - Waitrose Taxonomy, Top-Level</text>
<text class="title" x="743.3" y="560.6" font-size="8.3">Rich Mumford</text>
<text class="title" x="743.3" y="570.5" font-size="6.95">Version 1.2, Thu Feb 14 2013</text>

<!-- Key -->
<g id="key">
<rect x="759" y="465" width="44.7" height="107.7" fill="#fff" stroke="#dcdcdc" stroke-width="0.8"/>
<text x="781" y="475" font-family="Liberation Sans, Arial, sans-serif" font-size="5" font-weight="bold" fill="#222" text-anchor="middle">KEY</text>
<g id="key-first" class="n l1" transform="translate(768,479.7)"><rect width="25.4" height="12.6"/><text x="3" y="7.6">First level</text></g>
<g id="key-second" class="n l2" transform="translate(768,495)"><rect width="25.4" height="12.6"/><text x="3" y="7.6">Second level</text></g>
<g id="key-third" class="n l3" transform="translate(768,510)"><rect width="25.4" height="12.6"/><text x="3" y="7.6">Third level</text></g>
<g id="key-fourth" class="n l4" transform="translate(768,525.3)"><rect width="25.4" height="12.6"/><text x="3" y="7.6">Fourth level</text></g>
<g id="key-dup" class="n dup" transform="translate(768,540.3)"><rect width="25.4" height="12.6"/><text x="3" y="5.5">Duplicated<tspan x="3" dy="3.6">item</tspan></text></g>
<g id="key-future" class="n fut" transform="translate(768,555.3)"><rect width="25.4" height="12.6"/><text x="3" y="7.6">Future item</text></g>
</g>
</svg>
